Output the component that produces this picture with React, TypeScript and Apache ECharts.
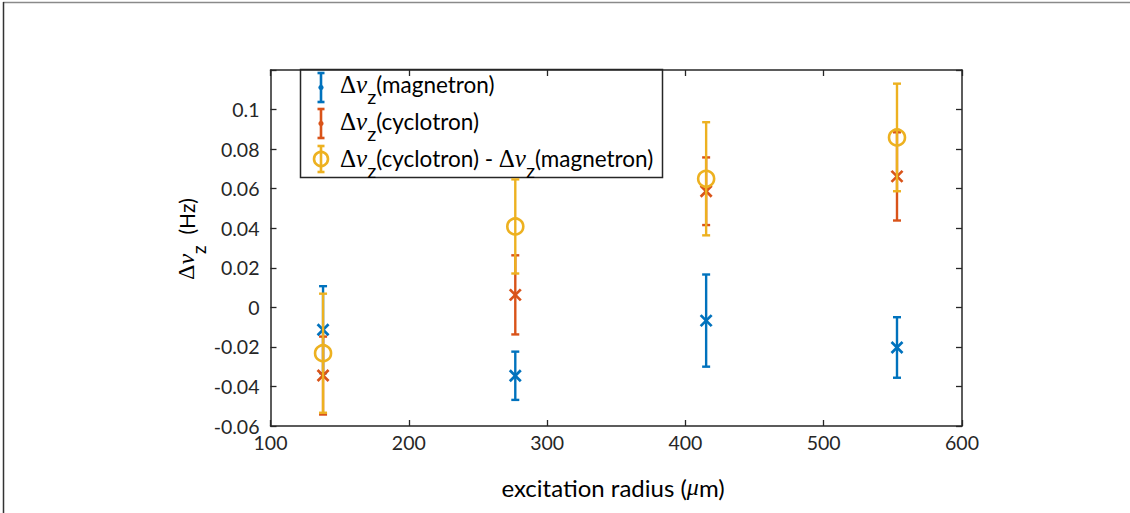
import React, { useEffect, useRef } from "react";
import * as echarts from "echarts";

// Excitation radius (µm) of the four measurement points
const radius = [138, 277, 415, 553];

// Axial frequency shift after magnetron excitation, with 1σ errors (Hz)
const magnetron = [-0.0113, -0.0346, -0.0067, -0.0203];
const magnetronErr = [0.022, 0.0122, 0.0233, 0.0153];

// Axial frequency shift after cyclotron excitation, with 1σ errors (Hz)
const cyclotron = [-0.0345, 0.0063, 0.0587, 0.0662];
const cyclotronErr = [0.0197, 0.02, 0.0171, 0.0223];

// Difference cyclotron − magnetron, with combined errors (Hz)
const difference = [-0.0232, 0.0409, 0.065, 0.0859];
const differenceErr = [0.0301, 0.0238, 0.0286, 0.0272];

const xTicks = [100, 600, 100]; // min, max, step
const yTicks = [-0.06, 0.12, 0.02];

const BLUE = "#0072BD";
const RED = "#D95319";
const YELLOW = "#EDB120";
const INK = "#262626";
const SANS = "Lato";
const SERIF = "Liberation Serif";

type Marker = "x" | "o";

function errorSeries(name: string, ys: number[], errs: number[], color: string, marker: Marker) {
  const data = radius.map((x, i) => [x, ys[i], errs[i]]);
  return {
    type: "custom",
    name,
    xAxisIndex: 0,
    yAxisIndex: 0,
    encode: { x: 0, y: 1 },
    data,
    renderItem: (_params: any, api: any) => {
      const x = api.value(0);
      const y = api.value(1);
      const e = api.value(2);
      const c = api.coord([x, y]);
      const t = api.coord([x, y + e]);
      const b = api.coord([x, y - e]);
      const cap = 4;
      const lw = 2.4;
      const stroke = { stroke: color, lineWidth: lw };
      const children: any[] = [
        { type: "line", shape: { x1: t[0], y1: t[1], x2: b[0], y2: b[1] }, style: stroke },
        { type: "line", shape: { x1: t[0] - cap, y1: t[1], x2: t[0] + cap, y2: t[1] }, style: stroke },
        { type: "line", shape: { x1: b[0] - cap, y1: b[1], x2: b[0] + cap, y2: b[1] }, style: stroke },
      ];
      if (marker === "x") {
        const m = 5.5;
        children.push(
          { type: "line", shape: { x1: c[0] - m, y1: c[1] - m, x2: c[0] + m, y2: c[1] + m }, style: { stroke: color, lineWidth: 2.7 } },
          { type: "line", shape: { x1: c[0] - m, y1: c[1] + m, x2: c[0] + m, y2: c[1] - m }, style: { stroke: color, lineWidth: 2.7 } }
        );
      } else {
        children.push({
          type: "circle",
          shape: { cx: c[0], cy: c[1], r: 8 },
          style: { fill: "none", stroke: color, lineWidth: 2.6 },
        });
      }
      return { type: "group", children };
    },
  };
}

function legendIcon(cx: number, top: number, bottom: number, color: string, marker: "dot" | "o") {
  const mid = (top + bottom) / 2;
  const s = { stroke: color, lineWidth: 2.6 };
  const kids: any[] = [
    { type: "line", shape: { x1: cx, y1: top, x2: cx, y2: bottom }, style: s },
    { type: "line", shape: { x1: cx - 3.5, y1: top, x2: cx + 3.5, y2: top }, style: s },
    { type: "line", shape: { x1: cx - 3.5, y1: bottom, x2: cx + 3.5, y2: bottom }, style: s },
  ];
  if (marker === "dot") {
    kids.push({ type: "circle", shape: { cx, cy: mid, r: 2.6 }, style: { fill: color } });
  } else {
    kids.push({ type: "circle", shape: { cx, cy: mid, r: 7 }, style: { fill: "none", stroke: color, lineWidth: 2.6 } });
  }
  return { type: "group", children: kids };
}

const richStyles = {
  d: { fontFamily: SERIF, fontSize: 25, color: INK },
  n: { fontFamily: SERIF, fontStyle: "italic", fontSize: 25, color: INK },
  s: { fontFamily: SANS, fontSize: 20, color: INK, padding: [24, 0, 0, 0] },
  t: { fontFamily: SANS, fontSize: 22.5, color: INK },
};

function legendText(x: number, y: number, text: string) {
  return {
    type: "text",
    x,
    y,
    style: { text, rich: richStyles, align: "left", verticalAlign: "middle" },
  };
}

export default function App() {
  const ref = useRef<HTMLDivElement>(null);

  useEffect(() => {
    if (!ref.current) return;
    const chart = echarts.init(ref.current, null, { renderer: "svg" });

    const yFmt = (v: number) => (Math.abs(v - yTicks[1]) < 1e-9 ? "" : String(parseFloat(v.toFixed(2))));

    const axisCommon = {
      axisLine: { show: true, onZero: false, lineStyle: { color: INK, width: 1.5 } },
      axisTick: { show: true, inside: true, length: 6, lineStyle: { color: INK, width: 1.3 } },
      splitLine: { show: false },
    };

    chart.setOption({
      animation: false,
      backgroundColor: "#ffffff",
      grid: { left: 270.5, right: 168, top: 70, bottom: 87, containLabel: false },
      xAxis: [
        {
          type: "value",
          min: xTicks[0],
          max: xTicks[1],
          interval: xTicks[2],
          position: "bottom",
          ...axisCommon,
          axisLabel: { color: INK, fontFamily: SANS, fontSize: 19.5, margin: 6 },
        },
        {
          type: "value",
          min: xTicks[0],
          max: xTicks[1],
          interval: xTicks[2],
          position: "top",
          ...axisCommon,
          axisLabel: { show: false },
        },
      ],
      yAxis: [
        {
          type: "value",
          min: yTicks[0],
          max: yTicks[1],
          interval: yTicks[2],
          position: "left",
          ...axisCommon,
          axisLabel: { color: INK, fontFamily: SANS, fontSize: 19.5, margin: 11, formatter: yFmt },
        },
        {
          type: "value",
          min: yTicks[0],
          max: yTicks[1],
          interval: yTicks[2],
          position: "right",
          ...axisCommon,
          axisLabel: { show: false },
        },
      ],
      series: [
        errorSeries("magnetron", magnetron, magnetronErr, BLUE, "x"),
        errorSeries("cyclotron", cyclotron, cyclotronErr, RED, "x"),
        errorSeries("difference", difference, differenceErr, YELLOW, "o"),
      ],
      graphic: [
        // page frame
        { type: "line", shape: { x1: 3, y1: 2.5, x2: 1130, y2: 2.5 }, style: { stroke: "#8a8a8a", lineWidth: 1.5 } },
        { type: "line", shape: { x1: 3.5, y1: 2, x2: 3.5, y2: 513 }, style: { stroke: "#333333", lineWidth: 1.5 } },
        // y axis title
        {
          type: "text",
          x: 186,
          y: 239,
          rotation: Math.PI / 2,
          style: {
            text: "{d|Δ}{n|ν}{s|z}{t|  (Hz)}",
            rich: {
              d: { fontFamily: SERIF, fontSize: 24, color: INK },
              n: { fontFamily: SERIF, fontStyle: "italic", fontSize: 24, color: INK },
              s: { fontFamily: SANS, fontSize: 19, color: INK, padding: [24, 0, 0, 0] },
              t: { fontFamily: SANS, fontSize: 21, color: INK },
            },
            align: "center",
            verticalAlign: "middle",
          },
        },
        // x axis title
        {
          type: "text",
          x: 613,
          y: 487,
          style: {
            text: "{t|excitation radius (}{n|μ}{t|m)}",
            rich: {
              t: { fontFamily: SANS, fontSize: 24, color: INK },
              n: { fontFamily: SERIF, fontStyle: "italic", fontSize: 24, color: INK },
            },
            align: "center",
            verticalAlign: "middle",
          },
        },
        // legend
        {
          type: "group",
          z: 100,
          children: [
            {
              type: "rect",
              shape: { x: 300.5, y: 69.5, width: 362, height: 108 },
              style: { fill: "#ffffff", stroke: INK, lineWidth: 1.5 },
            },
            legendIcon(321, 73, 102, BLUE, "dot"),
            legendIcon(321, 109, 138, RED, "dot"),
            legendIcon(321, 146, 172, YELLOW, "o"),
            legendText(340, 84, "{d|Δ}{n|ν}{s|z}{t|(magnetron)}"),
            legendText(340, 121, "{d|Δ}{n|ν}{s|z}{t|(cyclotron)}"),
            legendText(340, 158, "{d|Δ}{n|ν}{s|z}{t|(cyclotron) - }{d|Δ}{n|ν}{s|z}{t|(magnetron)}"),
          ],
        },
      ],
    });

    return () => chart.dispose();
  }, []);

  return (
    <div
      ref={ref}
      style={{ position: "fixed", left: 0, top: 0, width: 1130, height: 513, background: "#fff" }}
    />
  );
}
